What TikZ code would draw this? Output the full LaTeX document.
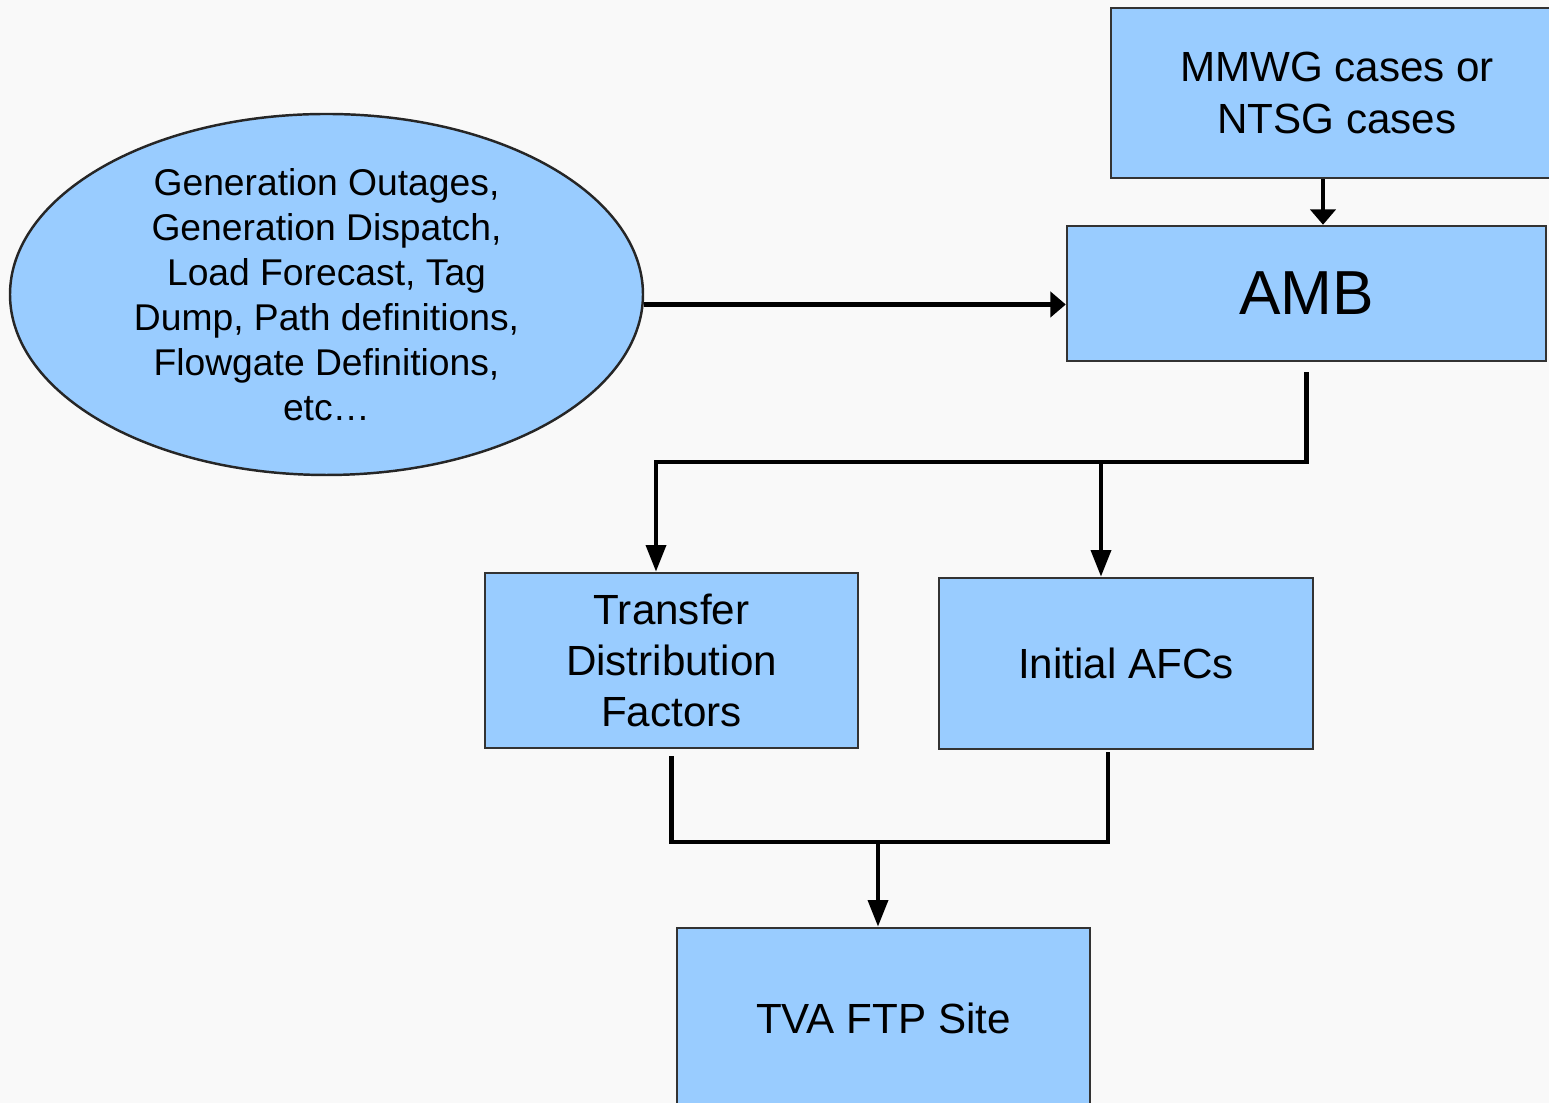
\documentclass[tikz,border=0pt]{standalone}
\usepackage{fontspec}
\setmainfont{Liberation Sans}
\usepackage{tikz}
\usetikzlibrary{shapes.geometric}
\usetikzlibrary{arrows.meta}
\definecolor{boxblue}{RGB}{153,204,255}
\definecolor{bgpaper}{RGB}{249,249,249}
\tikzstyle{blk} = [rectangle, draw=black!80, line width=0.7pt, fill=boxblue, text centered, align=center, font=\fontsize{12}{14.6}\selectfont]
\tikzstyle{src} = [ellipse, draw=black!85, line width=0.7pt, fill=boxblue, inner sep=0pt, minimum width=6.33cm, minimum height=3.61cm, align=center, font=\fontsize{10.6}{12.8}\selectfont]
\tikzstyle{wire} = [line width=1.3pt, black]
\tikzstyle{arrL} = [wire, -{Triangle[width=5.6pt,length=7.6pt]}]
\tikzstyle{arrS} = [wire, -{Triangle[width=7.2pt,length=4.4pt]}]

\begin{document}
\begin{tikzpicture}

\useasboundingbox (0,0) rectangle (15.49,11.03);
\clip (0,0) rectangle (15.49,11.03);
\fill[bgpaper] (0,0) rectangle (15.49,11.03);

\node (mmwg) [blk, minimum width=4.52cm, minimum height=1.70cm] at (13.37,10.10) {MMWG cases or\\NTSG cases};
\node (amb) [blk, minimum width=4.79cm, minimum height=1.35cm, font=\fontsize{17.7}{20}\selectfont] at (13.065,8.095) {AMB};
\node (ell) [src] at (3.265,8.085) {Generation Outages,\\Generation Dispatch,\\Load Forecast, Tag\\Dump, Path definitions,\\Flowgate Definitions,\\etc\dots};

\node (tdf) [blk, minimum width=3.73cm, minimum height=1.75cm] at (6.715,4.425) {Transfer\\Distribution\\Factors};
\node (afc) [blk, minimum width=3.74cm, minimum height=1.71cm] at (11.26,4.395) {Initial AFCs};
\node (tva) [blk, minimum width=4.13cm, minimum height=1.80cm] at (8.835,0.85) {TVA FTP Site};

% junction points
\coordinate (mmwgout) at ([xshift=-1.4mm]mmwg.south);
\coordinate (ambout) at ([yshift=-1mm]amb.south);
\coordinate (ellout) at ([yshift=-1mm]ell.east);
\coordinate (ltap) at (6.56,6.41);
\coordinate (rtap) at (11.01,6.41);
\coordinate (tdfout) at ([yshift=-0.7mm]tdf.south);
\coordinate (afcout) at ([xshift=-1.8mm,yshift=-0.2mm]afc.south);
\coordinate (btap) at (8.78,2.61);

\draw[arrS] (mmwgout) -- (mmwgout |- amb.north);
\draw[arrS] (ellout) -- (ellout -| amb.west);

\draw[arrL] (ambout) |- (ltap) -- (ltap |- tdf.north);
\draw[arrL] (rtap) -- (rtap |- afc.north);

\draw[wire] (tdfout) |- (btap) -| (afcout);
\draw[arrL] (btap) -- (btap |- tva.north);

\end{tikzpicture}
\end{document}
